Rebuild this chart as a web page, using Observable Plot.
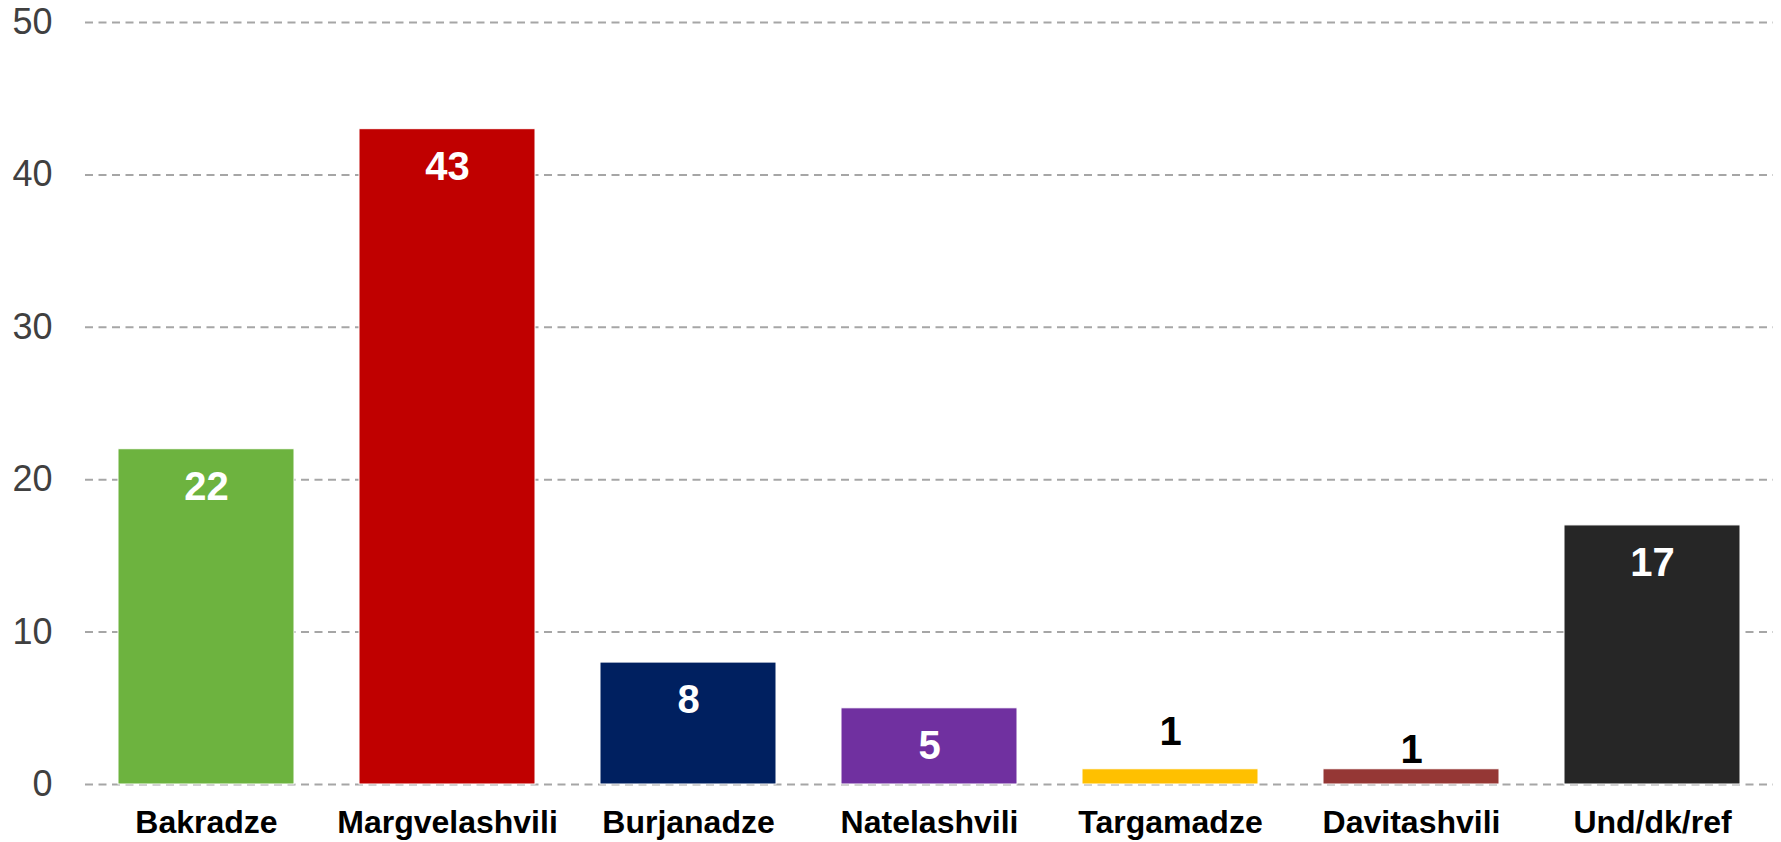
<!DOCTYPE html>
<html>
<head>
<meta charset="utf-8">
<script src="https://cdn.jsdelivr.net/npm/d3@7"></script>
<script src="https://cdn.jsdelivr.net/npm/@observablehq/plot@0.6"></script>
<style>
  html, body { margin: 0; padding: 0; background: #fff; }
  #chart svg { display: block; }
</style>
</head>
<body>
<div id="chart"></div>
<script>
const categories = ["Bakradze", "Margvelashvili", "Burjanadze", "Natelashvili", "Targamadze", "Davitashvili", "Und/dk/ref"];
const values = [22, 43, 8, 5, 1, 1, 17];
const colors = ["#6db33f", "#c00000", "#002060", "#7030a0", "#ffc000", "#953735", "#262626"];
const yTicks = [0, 10, 20, 30, 40, 50];

const data = categories.map((c, i) => ({name: c, value: values[i], color: colors[i]}));
const inside = data.filter(d => d.value >= 5);
const outsideA = data.filter(d => d.name === "Targamadze");
const outsideB = data.filter(d => d.name === "Davitashvili");

const chart = Plot.plot({
  width: 1781,
  height: 842,
  marginTop: 22,
  marginBottom: 58,
  marginLeft: 85,
  marginRight: 8,
  style: {fontFamily: "'Liberation Sans', Arial, sans-serif", background: "#fff"},
  x: {domain: categories, paddingInner: 0.27, paddingOuter: 0.13, label: null},
  y: {domain: [0, 50], label: null},
  marks: [
    Plot.ruleY(yTicks, {stroke: "#a6a6a6", strokeWidth: 2, strokeDasharray: "8,5.5"}),
    Plot.barY(data, {x: "name", y: "value", fill: d => d.color, stroke: "#ffffff", strokeWidth: 1}),
    Plot.text(inside, {x: "name", y: "value", text: d => String(d.value), dy: 38, fill: "#ffffff", fontSize: 40, fontWeight: "bold", lineAnchor: "middle"}),
    Plot.text(outsideA, {x: "name", y: "value", text: d => String(d.value), dy: -37, fill: "#000000", fontSize: 40, fontWeight: "bold", lineAnchor: "middle"}),
    Plot.text(outsideB, {x: "name", y: "value", text: d => String(d.value), dy: -19, fill: "#000000", fontSize: 40, fontWeight: "bold", lineAnchor: "middle"}),
    Plot.axisY({ticks: yTicks, tickSize: 0, tickPadding: 33, fontSize: 36, color: "#404040", label: null}),
    Plot.axisX({tickSize: 0, tickPadding: 26, fontSize: 32, fontWeight: "bold", color: "#000000", label: null})
  ]
});
document.getElementById("chart").appendChild(chart);
</script>
</body>
</html>
